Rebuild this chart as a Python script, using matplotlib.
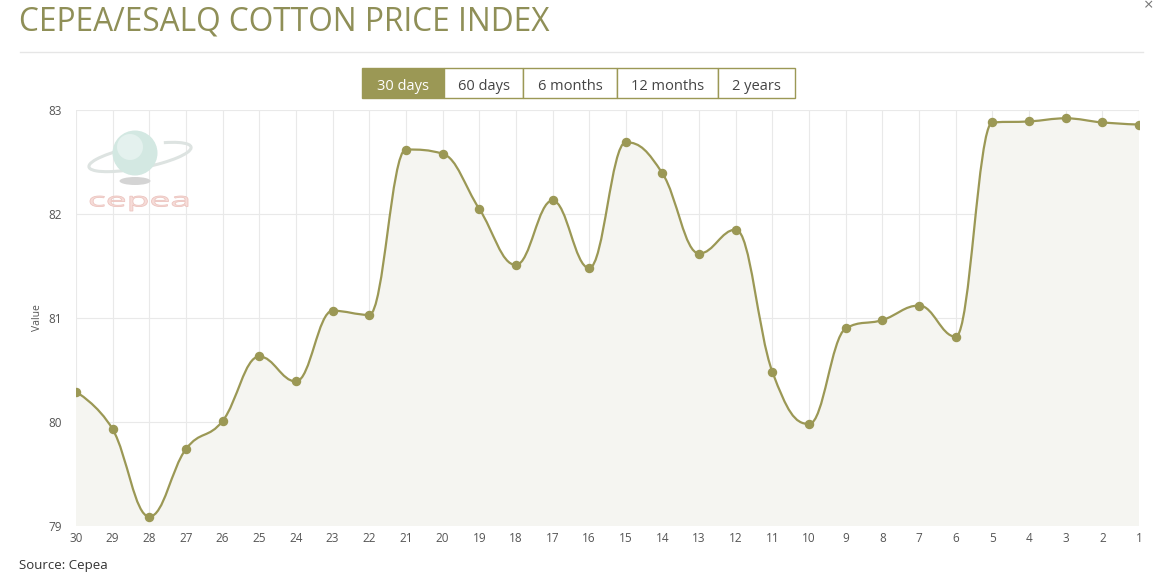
import numpy as np
import matplotlib
matplotlib.use("Agg")
import matplotlib.pyplot as plt
from matplotlib.path import Path
from matplotlib.patches import PathPatch, Rectangle, Ellipse, Arc
from matplotlib.textpath import TextPath
from matplotlib.transforms import Affine2D

plt.rcParams['font.family'] = ['Open Sans', 'DejaVu Sans']

# data (days ago, newest on the right)
days = ['30', '29', '28', '27', '26', '25', '24', '23', '22', '21', '20', '19', '18', '17', '16',
        '15', '14', '13', '12', '11', '10', '9', '8', '7', '6', '5', '4', '3', '2', '1']
values = [80.29, 79.93, 79.09, 79.74, 80.01, 80.63, 80.39, 81.07, 81.03, 82.62,
          82.58, 82.05, 81.51, 82.13, 81.48, 82.69, 82.39, 81.62, 81.85, 80.48,
          79.98, 80.90, 80.98, 81.12, 80.82, 82.88, 82.89, 82.92, 82.88, 82.86]
y_ticks = [79, 80, 81, 82, 83]
buttons = ['30 days', '60 days', '6 months', '12 months', '2 years']

OLIVE = '#9b9855'
W, H = 1154, 578


def spline_path(xs, ys, smoothing=1.5):
    # highcharts style spline -> cubic bezier segments
    n = len(xs)
    denom = smoothing + 1
    lc = [(xs[i], ys[i]) for i in range(n)]
    rc = [(xs[i], ys[i]) for i in range(n)]
    for i in range(1, n - 1):
        px, py = xs[i], ys[i]
        lx, ly = xs[i - 1], ys[i - 1]
        nx, ny = xs[i + 1], ys[i + 1]
        lcx = (smoothing * px + lx) / denom
        lcy = (smoothing * py + ly) / denom
        rcx = (smoothing * px + nx) / denom
        rcy = (smoothing * py + ny) / denom
        corr = ((rcy - lcy) * (rcx - px)) / (rcx - lcx) + py - rcy
        lcy += corr
        rcy += corr
        if lcy > ly and lcy > py:
            lcy = max(ly, py)
            rcy = 2 * py - lcy
        elif lcy < ly and lcy < py:
            lcy = min(ly, py)
            rcy = 2 * py - lcy
        if rcy > ny and rcy > py:
            rcy = max(ny, py)
            lcy = 2 * py - rcy
        elif rcy < ny and rcy < py:
            rcy = min(ny, py)
            lcy = 2 * py - rcy
        lc[i] = (lcx, lcy)
        rc[i] = (rcx, rcy)
    verts = [(xs[0], ys[0])]
    codes = [Path.MOVETO]
    for i in range(1, n):
        verts += [rc[i - 1], lc[i], (xs[i], ys[i])]
        codes += [Path.CURVE4] * 3
    return verts, codes


def px(xp, yp):
    # pixel (from top-left) -> figure fraction
    return xp / W, 1 - yp / H


def dp(xp, yp):
    # pixel (from top-left) -> display coords
    return xp, H - yp


fig = plt.figure(figsize=(W / 100, H / 100), dpi=100)
ax = fig.add_axes([76 / W, 1 - 526 / H, (1139 - 76) / W, (526 - 110) / H])

x = np.arange(len(days))
verts, codes = spline_path(list(x), values)

# area under the curve
fill_verts = verts + [(x[-1], 79), (x[0], 79), (x[0], values[0])]
fill_codes = codes + [Path.LINETO, Path.LINETO, Path.CLOSEPOLY]
ax.add_patch(PathPatch(Path(fill_verts, fill_codes), facecolor='#f5f5f1', edgecolor='none', zorder=1))
ax.add_patch(PathPatch(Path(verts, codes), facecolor='none', edgecolor=OLIVE, lw=1.6, zorder=3))
ax.plot(x, values, 'o', color=OLIVE, ms=5.8, zorder=4)

ax.set_xlim(0, len(days) - 1)
ax.set_ylim(79, 83)
ax.set_xticks(x)
ax.set_xticklabels(days)
ax.set_yticks(y_ticks)
ax.grid(True, color='#e9e9e9', lw=0.8, zorder=0)
ax.set_axisbelow(True)
for s in ax.spines.values():
    s.set_visible(False)
ax.tick_params(axis='both', length=0, labelsize=8.5, colors='#555555')
ax.tick_params(axis='x', pad=4)
ax.tick_params(axis='y', pad=10)
ax.set_ylabel('Value', fontsize=7.5, color='#555555', labelpad=4)
ax.axhline(79, color='#dddddd', lw=1, zorder=0)

# title, separator, close sign
fig.text(*px(19, 22), 'CEPEA/ESALQ COTTON PRICE INDEX', fontsize=22.8,
         color='#8f8f57', va='center', ha='left')
fig.add_artist(plt.Line2D([20 / W, 1143 / W], [1 - 52 / H, 1 - 52 / H], color='#e6e6e6', lw=1))
fig.text(*px(1153, 6), '×', fontsize=12, color='#777777', va='center', ha='right')

# range buttons
edges = [362, 444, 523, 617, 718, 795]
for i, lab in enumerate(buttons):
    x0, x1 = edges[i], edges[i + 1]
    active = i == 0
    fig.add_artist(Rectangle(px(x0, 98), (x1 - x0) / W, 30 / H,
                             facecolor=OLIVE if active else 'white',
                             edgecolor=OLIVE, lw=1, transform=fig.transFigure))
    fig.text(*px((x0 + x1) / 2, 84), lab, fontsize=10.5,
             color='white' if active else '#444444', ha='center', va='center_baseline')

# cepea logo (rough)
fig.add_artist(Arc(dp(140, 157), 104, 22, angle=11, theta1=60, theta2=380,
                   transform=None, color='#dde3e1', lw=2.2, zorder=2))
fig.add_artist(Ellipse(dp(135, 153), 45, 45, transform=None,
                       facecolor='#d3e8e2', edgecolor='none', zorder=3))
fig.add_artist(Ellipse(dp(130, 147), 26, 26, transform=None,
                       facecolor='#e4f1ee', edgecolor='none', zorder=3))
fig.add_artist(Ellipse(dp(135, 181), 31, 8, transform=None,
                       facecolor='#d4d4d4', edgecolor='none', zorder=3))
tp = TextPath((0, 0), 'cepea', size=10)
bb = tp.get_extents()
tr = Affine2D().translate(-bb.x0, -bb.y0).scale(98 / bb.width, 15 / bb.height).translate(90, H - 211)
fig.add_artist(PathPatch(tr.transform_path(tp), facecolor='#f6dcd8', edgecolor='#ecc4bf',
                         lw=0.6, transform=None, zorder=3))

fig.text(*px(19, 566), 'Source: Cepea', fontsize=9.5, color='#333333', va='center', ha='left')

fig.savefig('out.png', dpi=100, facecolor='white')
